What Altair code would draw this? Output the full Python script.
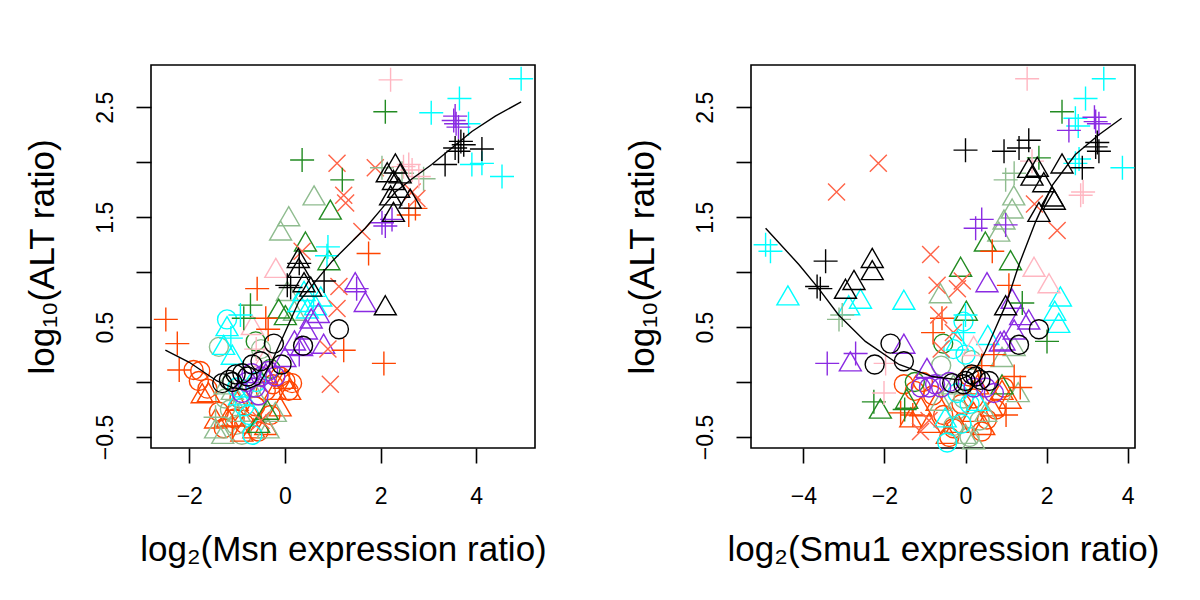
import altair as alt
import pandas as pd

# ---------------- Left panel: log2(Msn expression ratio) ----------------
msn_orangered_circle_x = [-1.91, -1.80, -1.77, -1.62, -1.38, -1.28, -1.05, -0.85, -0.62, -0.40, -0.25, -0.10, 0.01, 0.08, 0.15, -0.55, -0.95, -0.30]
msn_orangered_circle_y = [0.11, 0.01, 0.10, -0.06, -0.27, -0.42, -0.33, -0.38, -0.22, -0.08, -0.02, 0.05, 0.01, -0.08, -0.01, -0.45, -0.15, -0.30]
msn_orangered_triangle_x = [-1.73, -1.60, -1.45, -1.20, -1.00, -0.90, -0.65, -0.40, -0.20, -0.10, 0.00, 0.10, -0.70]
msn_orangered_triangle_y = [-0.13, -0.12, -0.36, -0.35, -0.20, -0.48, -0.45, -0.42, -0.10, -0.25, 0.00, -0.10, -0.30]
msn_orangered_plus_x = [-2.49, -2.25, -2.21, -0.58, -0.40, -0.35, 1.23, 2.07, 1.75, 2.59, 2.73, -1.10]
msn_orangered_plus_y = [0.57, 0.35, 0.11, 0.85, 0.58, 0.48, 0.29, 0.17, 1.17, 1.52, 1.58, -0.40]
msn_tomato_x_x = [1.09, 1.89, 1.23, 1.27, 2.76, 2.66, 1.61, 1.13, 1.09, 0.95, 0.36, 0.90, -0.50]
msn_tomato_x_y = [1.99, 1.95, 1.70, 1.63, 1.67, 1.73, 1.37, 0.87, 0.67, -0.02, 1.19, 0.30, -0.35]
msn_forestgreen_plus_x = [2.10, 0.36, 1.20, -0.72, -0.86]
msn_forestgreen_plus_y = [2.46, 2.02, 1.84, 0.70, 0.58]
msn_forestgreen_triangle_x = [0.95, 0.43, 0.92, -0.13, 0.01, -0.37, -0.55]
msn_forestgreen_triangle_y = [1.54, 1.25, 1.08, 0.64, 0.58, -0.28, -0.40]
msn_forestgreen_circle_x = [-0.61, -0.30]
msn_forestgreen_circle_y = [0.37, 0.12]
msn_darkseagreen_triangle_x = [0.61, 0.08, -0.09, 0.05, 0.20, -1.45, -1.30, -0.95, -0.60, -0.20, -0.35, -1.10, -1.25]
msn_darkseagreen_triangle_y = [1.67, 1.48, 1.35, 0.80, 0.62, -0.45, -0.50, -0.30, -0.15, -0.30, -0.45, -0.10, -0.05]
msn_darkseagreen_circle_x = [-1.38, -1.25, -1.03, -0.90, -1.15, -0.70, -0.50]
msn_darkseagreen_circle_y = [0.32, -0.15, -0.39, -0.48, -0.25, -0.05, 0.30]
msn_darkseagreen_plus_x = [2.03, 2.90, 2.45, -1.45]
msn_darkseagreen_plus_y = [1.95, 1.85, 1.90, -0.32]
msn_cyan_plus_x = [4.94, 3.06, 3.65, 3.84, 3.91, 4.12, 4.54, 0.90, 0.88, -0.93, -1.13, 0.60]
msn_cyan_plus_y = [2.76, 2.45, 2.58, 2.35, 1.98, 1.99, 1.87, 1.23, 1.15, 0.61, 0.40, 0.78]
msn_cyan_triangle_x = [0.29, 0.47, 0.64, 0.75, 0.40, -1.21, -1.28, -1.10, -0.95]
msn_cyan_triangle_y = [0.70, 0.64, 0.67, 0.75, 0.80, 0.48, 0.31, 0.22, -0.15]
msn_cyan_circle_x = [-1.21, -0.68, -0.85, -1.00, -0.75, -0.60]
msn_cyan_circle_y = [0.57, -0.48, -0.22, -0.05, -0.30, 0.00]
msn_purple_plus_x = [3.53, 3.58, 3.63, 3.56, 2.03, 2.10, 2.24, 1.50, 0.30]
msn_purple_plus_y = [2.38, 2.35, 2.32, 2.42, 1.45, 1.42, 1.48, 0.85, 0.25]
msn_purple_triangle_x = [1.47, 1.68, 0.81, 0.45, 0.70, 0.20, 0.00, 0.35, 0.55, -0.40]
msn_purple_triangle_y = [0.88, 0.70, 0.32, 0.45, 0.60, 0.35, 0.20, 0.30, 0.55, 0.05]
msn_purple_circle_x = [-0.80, -0.62, -0.50, -0.35, -0.70, -0.90, -0.20, -0.55]
msn_purple_circle_y = [0.00, -0.05, 0.05, 0.10, 0.08, -0.10, 0.05, -0.12]
msn_pink_plus_x = [2.21, 2.48, 2.66, 2.80, 2.59, -0.60]
msn_pink_plus_y = [2.75, 1.96, 1.93, 1.87, 1.98, 0.30]
msn_pink_triangle_x = [-0.19, -0.68, -0.40]
msn_pink_triangle_y = [1.01, 0.49, 0.20]
msn_black_plus_x = [3.35, 3.56, 3.74, 4.12, 3.63, 3.68, 0.05, 0.12, 0.30, 0.82]
msn_black_plus_y = [1.98, 2.13, 2.16, 2.12, 2.10, 2.19, 0.88, 0.86, 1.08, 0.92]
msn_black_triangle_x = [2.31, 2.14, 2.41, 2.27, 2.21, 2.62, 2.27, 2.38, 2.10, 0.28, 0.29, 0.40, 0.54]
msn_black_triangle_y = [1.96, 1.88, 1.87, 1.81, 1.67, 1.64, 1.52, 1.74, 0.67, 1.10, 1.01, 0.88, 0.84]
msn_black_circle_x = [1.13, 0.38, -0.23, -0.07, -0.51, -0.68, -0.89, -1.03, -1.17, -1.31, -0.78, -1.10]
msn_black_circle_y = [0.48, 0.33, 0.35, 0.16, 0.19, 0.16, 0.08, 0.07, 0.02, -0.01, 0.05, 0.00]
msn_fit_x = [-2.50, -2.00, -1.42, -1.10, -0.82, -0.54, -0.27, 0.01, 0.29, 0.57, 0.99, 1.68, 2.03, 2.31, 2.66, 3.07, 3.49, 3.91, 4.40, 4.94]
msn_fit_y = [0.29, 0.18, 0.01, -0.05, -0.07, -0.02, 0.19, 0.46, 0.73, 0.88, 1.10, 1.40, 1.58, 1.73, 1.85, 1.98, 2.13, 2.28, 2.42, 2.55]

# ---------------- Right panel: log2(Smu1 expression ratio) ----------------
smu_orangered_circle_x = [-1.52, -1.25, -1.05, -0.80, -0.55, -0.30, -0.10, 0.20, 0.40, 0.53, 0.75, 0.95, -0.40, 0.10]
smu_orangered_circle_y = [-0.02, -0.08, 0.00, -0.12, -0.30, -0.42, -0.20, -0.15, -0.45, -0.34, -0.25, -0.05, -0.50, 0.05]
smu_orangered_triangle_x = [-1.35, -1.10, -0.70, -0.45, -0.20, 0.20, 0.45, 0.65, 0.90, 1.10, -0.90, 0.30]
smu_orangered_triangle_y = [-0.35, -0.25, -0.20, -0.50, -0.40, -0.30, -0.42, -0.25, -0.10, -0.18, -0.40, -0.05]
smu_orangered_plus_x = [0.66, -0.58, 1.07, 0.70, 1.20, 1.35, -1.30, -1.60, -0.80, 0.40, 1.00]
smu_orangered_plus_y = [1.19, 0.58, 0.88, 0.25, 0.05, -0.05, -0.30, -0.28, 0.45, 0.15, -0.30]
smu_tomato_x_x = [-2.15, -3.18, -0.86, 2.26, -0.08, -0.70, -0.20, 1.70, -0.66, -0.60, -0.30, -1.11, -0.90]
smu_tomato_x_y = [1.99, 1.73, 1.16, 1.38, 0.92, 0.88, 0.85, 1.62, 0.61, 0.30, 0.45, -0.45, -0.35]
smu_forestgreen_plus_x = [2.38, 1.81, 2.01, -2.26, 1.40, -1.50]
smu_forestgreen_plus_y = [2.46, 2.04, 0.37, -0.18, 0.72, -0.25]
smu_forestgreen_triangle_x = [0.49, 1.11, -0.12, -2.10, 0.02, -1.45, 0.90]
smu_forestgreen_triangle_y = [1.25, 1.08, 1.02, -0.27, 0.62, -0.18, -0.05]
smu_forestgreen_circle_x = [-1.25, -0.55]
smu_forestgreen_circle_y = [0.00, 0.35]
smu_darkseagreen_triangle_x = [1.19, 0.82, -0.62, 1.15, 0.95, 0.00, 0.50, 1.30, 0.90, -0.60, 1.20, -0.30, 0.20]
smu_darkseagreen_triangle_y = [1.67, 1.34, 0.78, 1.55, 1.45, -0.50, -0.30, -0.12, 0.20, -0.20, 0.30, -0.05, -0.55]
smu_darkseagreen_circle_x = [-0.30, 0.10, -0.60, -0.20, 0.15, 0.35, -0.05]
smu_darkseagreen_circle_y = [-0.40, -0.50, 0.15, -0.25, 0.20, -0.35, -0.15]
smu_darkseagreen_plus_x = [0.99, 1.20, -3.04, -3.12]
smu_darkseagreen_plus_y = [1.84, 1.90, 0.61, 0.57]
smu_cyan_plus_x = [3.41, 2.96, 2.71, 2.78, 3.87, 2.71, 2.80, -4.93, -4.81, 0.00, -0.05]
smu_cyan_plus_y = [2.76, 2.58, 2.40, 2.33, 1.95, 1.99, 2.03, 1.25, 1.19, 0.61, 0.45]
smu_cyan_triangle_x = [-4.38, -1.52, -2.59, -2.88, 2.34, 2.30, 2.20, -0.20, 0.55, -0.50, 0.30]
smu_cyan_triangle_y = [0.76, 0.72, 0.73, 0.67, 0.75, 0.51, 0.62, 0.35, 0.40, -0.35, -0.20]
smu_cyan_circle_x = [-0.05, -0.30, 0.00, -0.45, 0.10, -0.20, -0.10]
smu_cyan_circle_y = [0.55, 0.30, 0.25, -0.55, -0.20, -0.10, -0.38]
smu_purple_plus_x = [2.55, 3.21, 3.29, 3.18, 0.25, 0.40, 0.99, -3.41, -2.71]
smu_purple_plus_y = [2.29, 2.37, 2.35, 2.41, 1.40, 1.48, 1.43, 0.17, 0.26]
smu_purple_triangle_x = [0.53, 1.15, 1.36, 1.56, 0.86, -1.52, -2.84, 1.20, 0.95, -0.95]
smu_purple_triangle_y = [0.88, 0.73, 0.58, 0.54, 0.34, 0.32, 0.16, 0.45, 0.35, 0.10]
smu_purple_circle_x = [-1.10, -0.90, -0.60, -0.40, 0.20, 0.50, 0.70, -0.75]
smu_purple_circle_y = [-0.05, -0.05, -0.05, 0.00, -0.05, -0.05, -0.10, -0.02]
smu_pink_plus_x = [1.52, 2.84, 2.90, 1.64, -1.97, -2.01]
smu_pink_plus_y = [2.76, 1.70, 1.73, 2.01, 0.17, -0.10]
smu_pink_triangle_x = [1.69, 2.06, 0.20]
smu_pink_triangle_y = [1.02, 0.87, 0.30]
smu_black_plus_x = [0.00, 0.95, 1.32, 1.56, 3.21, 3.29, 2.88, 3.25, -3.45, -3.66, -3.58]
smu_black_plus_y = [2.11, 2.10, 2.13, 2.20, 2.14, 2.10, 1.95, 2.18, 1.10, 0.87, 0.85]
smu_black_triangle_x = [1.56, 1.77, 1.64, 2.38, 1.93, 2.14, 2.19, 1.81, 0.99, -2.30, -2.30, -2.75, -2.96]
smu_black_triangle_y = [1.92, 1.93, 1.85, 1.96, 1.79, 1.66, 1.63, 1.52, 0.67, 1.10, 0.99, 0.90, 0.82]
smu_black_circle_x = [1.81, 1.32, -1.85, -2.24, -1.52, -0.33, 0.00, 0.25, 0.37, 0.58, -0.05, 0.15]
smu_black_circle_y = [0.48, 0.34, 0.35, 0.16, 0.19, -0.01, 0.01, 0.05, 0.02, 0.01, -0.02, 0.07]
smu_fit_x = [-4.93, -4.11, -3.62, -3.13, -2.47, -1.64, -0.82, -0.16, 0.20, 0.49, 0.74, 0.99, 1.32, 1.73, 2.14, 2.71, 3.29, 3.85]
smu_fit_y = [1.40, 1.07, 0.85, 0.61, 0.37, 0.16, 0.05, 0.02, 0.08, 0.28, 0.49, 0.70, 1.07, 1.46, 1.79, 2.07, 2.25, 2.40]

y_ticks = [-0.5, 0, 0.5, 1, 1.5, 2, 2.5]
msn_x_ticks = [-2, 0, 2, 4]
smu_x_ticks = [-4, -2, 0, 2, 4]

# ---------------- styles ----------------
COLOR = {
    "orangered": "#FF4500", "tomato": "#FF6347", "forestgreen": "#228B22",
    "darkseagreen": "#8FBC8F", "cyan": "#00FFFF", "purple": "#8A2BE2",
    "pink": "#FFB6C1", "black": "#000000",
}
SHAPE = {
    "circle": "circle",
    "triangle": "M0,-1L0.866,0.5L-0.866,0.5Z",
    "plus": "M-1,0L1,0M0,-1L0,1",
    "x": "M-1,-1L1,1M-1,1L1,-1",
}
SIZE = {"circle": 361, "triangle": 645, "plus": 576, "x": 289}


def build(series):
    rows = []
    for xs, ys, col, shp in series:
        for a, b in zip(xs, ys):
            rows.append({"x": a, "y": b, "c": COLOR[col], "s": SHAPE[shp],
                         "z": SIZE[shp], "o": len(rows)})
    return pd.DataFrame(rows)


msn_df = build([
    (msn_orangered_circle_x, msn_orangered_circle_y, "orangered", "circle"),
    (msn_darkseagreen_circle_x, msn_darkseagreen_circle_y, "darkseagreen", "circle"),
    (msn_orangered_triangle_x, msn_orangered_triangle_y, "orangered", "triangle"),
    (msn_darkseagreen_triangle_x, msn_darkseagreen_triangle_y, "darkseagreen", "triangle"),
    (msn_cyan_circle_x, msn_cyan_circle_y, "cyan", "circle"),
    (msn_forestgreen_circle_x, msn_forestgreen_circle_y, "forestgreen", "circle"),
    (msn_forestgreen_triangle_x, msn_forestgreen_triangle_y, "forestgreen", "triangle"),
    (msn_cyan_triangle_x, msn_cyan_triangle_y, "cyan", "triangle"),
    (msn_pink_triangle_x, msn_pink_triangle_y, "pink", "triangle"),
    (msn_purple_circle_x, msn_purple_circle_y, "purple", "circle"),
    (msn_purple_triangle_x, msn_purple_triangle_y, "purple", "triangle"),
    (msn_orangered_plus_x, msn_orangered_plus_y, "orangered", "plus"),
    (msn_tomato_x_x, msn_tomato_x_y, "tomato", "x"),
    (msn_forestgreen_plus_x, msn_forestgreen_plus_y, "forestgreen", "plus"),
    (msn_darkseagreen_plus_x, msn_darkseagreen_plus_y, "darkseagreen", "plus"),
    (msn_cyan_plus_x, msn_cyan_plus_y, "cyan", "plus"),
    (msn_purple_plus_x, msn_purple_plus_y, "purple", "plus"),
    (msn_pink_plus_x, msn_pink_plus_y, "pink", "plus"),
    (msn_black_plus_x, msn_black_plus_y, "black", "plus"),
    (msn_black_triangle_x, msn_black_triangle_y, "black", "triangle"),
    (msn_black_circle_x, msn_black_circle_y, "black", "circle"),
])

smu_df = build([
    (smu_orangered_circle_x, smu_orangered_circle_y, "orangered", "circle"),
    (smu_darkseagreen_circle_x, smu_darkseagreen_circle_y, "darkseagreen", "circle"),
    (smu_orangered_triangle_x, smu_orangered_triangle_y, "orangered", "triangle"),
    (smu_darkseagreen_triangle_x, smu_darkseagreen_triangle_y, "darkseagreen", "triangle"),
    (smu_cyan_circle_x, smu_cyan_circle_y, "cyan", "circle"),
    (smu_forestgreen_circle_x, smu_forestgreen_circle_y, "forestgreen", "circle"),
    (smu_forestgreen_triangle_x, smu_forestgreen_triangle_y, "forestgreen", "triangle"),
    (smu_cyan_triangle_x, smu_cyan_triangle_y, "cyan", "triangle"),
    (smu_pink_triangle_x, smu_pink_triangle_y, "pink", "triangle"),
    (smu_purple_circle_x, smu_purple_circle_y, "purple", "circle"),
    (smu_purple_triangle_x, smu_purple_triangle_y, "purple", "triangle"),
    (smu_orangered_plus_x, smu_orangered_plus_y, "orangered", "plus"),
    (smu_tomato_x_x, smu_tomato_x_y, "tomato", "x"),
    (smu_forestgreen_plus_x, smu_forestgreen_plus_y, "forestgreen", "plus"),
    (smu_darkseagreen_plus_x, smu_darkseagreen_plus_y, "darkseagreen", "plus"),
    (smu_cyan_plus_x, smu_cyan_plus_y, "cyan", "plus"),
    (smu_purple_plus_x, smu_purple_plus_y, "purple", "plus"),
    (smu_pink_plus_x, smu_pink_plus_y, "pink", "plus"),
    (smu_black_plus_x, smu_black_plus_y, "black", "plus"),
    (smu_black_triangle_x, smu_black_triangle_y, "black", "triangle"),
    (smu_black_circle_x, smu_black_circle_y, "black", "circle"),
])

msn_fit = pd.DataFrame({"x": msn_fit_x, "y": msn_fit_y})
smu_fit = pd.DataFrame({"x": smu_fit_x, "y": smu_fit_y})

Y_DOMAIN = [-0.60, 2.885]


def panel(points, fit, xdom, xticks, xtitle):
    xenc = alt.X("x:Q", scale=alt.Scale(domain=xdom, nice=False, zero=False),
                 axis=alt.Axis(values=xticks, format="d", title=xtitle,
                               labelPadding=22, titlePadding=24))
    yenc = alt.Y("y:Q", scale=alt.Scale(domain=Y_DOMAIN, nice=False, zero=False),
                 axis=alt.Axis(values=y_ticks, format=".1f",
                               labelExpr="(datum.value * 2) % 2 != 0 ? datum.label : ''",
                               labelAngle=-90, labelAlign="center", labelBaseline="bottom",
                               labelPadding=19, titlePadding=34,
                               title="log₁₀(ALT ratio)"))
    pts = alt.Chart(points).mark_point(filled=False, strokeWidth=1.4, opacity=1).encode(
        x=xenc, y=yenc,
        color=alt.Color("c:N", scale=None),
        shape=alt.Shape("s:N", scale=None),
        size=alt.Size("z:Q", scale=None),
        order=alt.Order("o:Q"),
    )
    line = alt.Chart(fit).mark_line(color="black", strokeWidth=1.4).encode(x=xenc, y=yenc)
    return alt.layer(pts, line).properties(width=384, height=383)


left = panel(msn_df, msn_fit, [-2.80, 5.23], msn_x_ticks, "log₂(Msn expression ratio)")
right = panel(smu_df, smu_fit, [-5.29, 4.18], smu_x_ticks, "log₂(Smu1 expression ratio)")

chart = alt.hconcat(left, right, spacing=216, bounds="flush").properties(
    padding={"left": 16, "top": 55, "right": 5, "bottom": 5}
).configure(font="Liberation Sans").configure_view(
    stroke="black", strokeWidth=1.6
).configure_axis(
    domain=False, grid=False, ticks=True, tickColor="black", tickWidth=1.6, tickSize=15,
    labelFont="Liberation Sans", labelFontSize=23, labelColor="black",
    titleFont="Liberation Sans", titleFontSize=35, titleFontWeight="normal", titleColor="black",
)

chart.save("out.html", embed_options={"renderer": "svg", "actions": False})
